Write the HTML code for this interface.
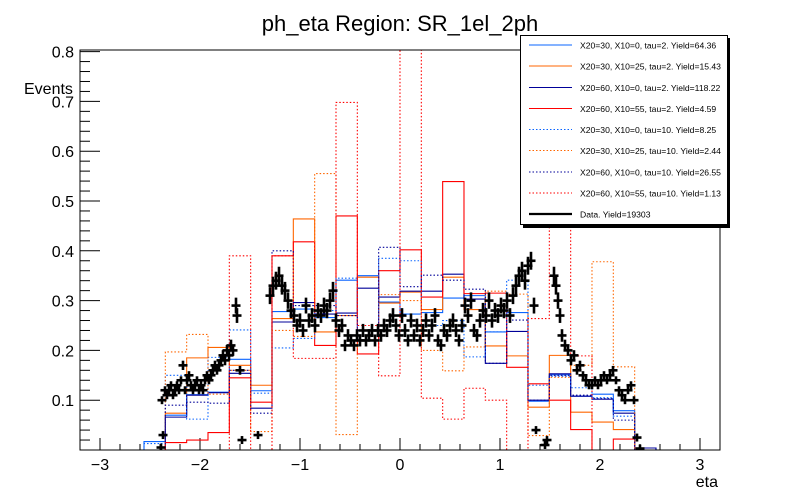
<!DOCTYPE html>
<html><head><meta charset="utf-8"><style>
html,body{margin:0;padding:0;background:#fff;}
svg{display:block;font-family:"Liberation Sans",sans-serif;}
</style></head><body>
<svg id="chart" width="800" height="500" viewBox="0 0 800 500">
<rect x="0" y="0" width="800" height="500" fill="#fff"/>
<text x="400" y="31" font-size="22" text-anchor="middle">ph_eta Region: SR_1el_2ph</text>
<text x="24" y="94" font-size="16">Events</text>
<text x="718" y="487" font-size="16" text-anchor="end">eta</text>
<defs><clipPath id="plotclip"><rect x="80" y="50" width="640" height="400"/></clipPath></defs>
<g id="axes"></g>
<g id="hists" clip-path="url(#plotclip)"></g>
<g id="datag" clip-path="url(#plotclip)"></g>
<rect x="80" y="50" width="640" height="400" fill="none" stroke="#000" stroke-width="1"/>
<g id="legend"></g>
</svg>
<script>
const binLo = -3.2;
const binW = 0.21333;
// bins 0..29
const sigA = [0,0,0,0.017,0.07,0.111,0.116,0.182,0.119,0.278,0.283,0.266,0.341,0.35,0.297,0.273,0.276,0.305,0.31,0.237,0.276,0.098,0.151,0.108,0.112,0.079,0.004,0,0,0];
const sigB = [0,0,0,0,0.074,0.185,0.206,0.17,0.13,0.264,0.464,0.237,0.27,0.347,0.295,0.317,0.282,0.347,0.282,0.209,0.189,0.086,0.19,0.076,0.056,0.041,0,0,0,0];
const sigC = [0,0,0,0,0.066,0.11,0.115,0.154,0.084,0.257,0.296,0.273,0.275,0.325,0.307,0.319,0.319,0.353,0.303,0.174,0.238,0.1,0.153,0.108,0.102,0.074,0.004,0,0,0];
const sigD = [0,0,0,0,0.015,0.02,0.035,0.145,0.096,0.39,0.418,0.21,0.47,0.193,0.36,0.402,0.307,0.539,0.314,0.315,0.166,0.133,0.1,0.041,0,0.022,0,0,0,0];
const sigE = [0,0,0,0.013,0.15,0.062,0.186,0.241,0.114,0.205,0.224,0.28,0.345,0.24,0.385,0.38,0.25,0.26,0.187,0.237,0.341,0.13,0.148,0.125,0.105,0.068,0,0,0,0];
const sigF = [0,0,0,0,0.197,0.232,0.112,0.16,0.037,0.24,0.228,0.555,0.031,0.24,0.312,0.3,0.2,0.159,0.207,0.319,0.313,0.029,0.146,0.17,0.378,0.167,0,0,0,0];
const sigG = [0,0,0,0,0.09,0.096,0.094,0.16,0.074,0.4,0.29,0.29,0.27,0.24,0.407,0.328,0.351,0.341,0.323,0.174,0.261,0.1,0.15,0.11,0.103,0.06,0,0,0,0];
const sigH = [0,0,0,0,0,0,0,0.39,0,0.39,0.184,0.184,0.698,0.25,0.149,0.9,0.104,0.062,0.124,0.1,0,0.264,0.9,0.189,0,0,0,0,0,0];
const dataEta = [-2.39,-2.37,-2.38,-2.35,-2.33,-2.31,-2.29,-2.27,-2.25,-2.23,-2.21,-2.19,-2.17,-2.15,-2.13,-2.11,-2.09,-2.07,-2.05,-2.03,-2.01,-1.99,-1.97,-1.95,-1.93,-1.91,-1.89,-1.87,-1.85,-1.83,-1.81,-1.79,-1.77,-1.75,-1.73,-1.71,-1.69,-1.67,-1.64,-1.63,-1.60,-1.58,-1.42,-1.30,-1.27,-1.24,-1.21,-1.18,-1.15,-1.12,-1.09,-1.06,-1.03,-1.00,-0.97,-0.94,-0.91,-0.88,-0.85,-0.82,-0.79,-0.76,-0.73,-0.70,-0.67,-0.64,-0.61,-0.58,-0.55,-0.52,-0.49,-0.46,-0.43,-0.40,-0.37,-0.34,-0.31,-0.28,-0.25,-0.22,-0.19,-0.16,-0.13,-0.10,-0.07,-0.04,-0.01,0.02,0.05,0.08,0.11,0.14,0.17,0.20,0.23,0.26,0.29,0.32,0.35,0.38,0.41,0.44,0.47,0.50,0.53,0.56,0.59,0.62,0.65,0.68,0.71,0.74,0.77,0.80,0.83,0.86,0.89,0.92,0.95,0.98,1.01,1.04,1.07,1.10,1.13,1.16,1.19,1.22,1.25,1.28,1.31,1.34,1.36,1.45,1.47,1.54,1.56,1.58,1.60,1.62,1.65,1.68,1.71,1.74,1.77,1.80,1.83,1.86,1.89,1.92,1.95,1.98,2.01,2.04,2.07,2.10,2.13,2.16,2.19,2.22,2.25,2.28,2.31,2.34,2.37,2.40];
const dataVal = [0.005,0.03,0.10,0.12,0.11,0.12,0.13,0.11,0.12,0.13,0.12,0.14,0.17,0.12,0.14,0.15,0.13,0.12,0.13,0.14,0.12,0.13,0.12,0.14,0.15,0.14,0.15,0.16,0.17,0.16,0.17,0.18,0.19,0.18,0.20,0.19,0.21,0.20,0.29,0.27,0.16,0.02,0.03,0.31,0.33,0.34,0.35,0.33,0.32,0.30,0.28,0.27,0.25,0.26,0.24,0.29,0.26,0.27,0.25,0.28,0.27,0.29,0.28,0.30,0.32,0.26,0.24,0.25,0.21,0.23,0.22,0.21,0.23,0.22,0.24,0.22,0.23,0.24,0.22,0.24,0.23,0.25,0.24,0.26,0.27,0.25,0.23,0.27,0.24,0.22,0.26,0.23,0.25,0.22,0.24,0.26,0.23,0.25,0.27,0.22,0.21,0.24,0.23,0.25,0.26,0.24,0.22,0.25,0.29,0.27,0.30,0.24,0.23,0.26,0.28,0.27,0.30,0.26,0.28,0.27,0.29,0.28,0.30,0.27,0.31,0.33,0.35,0.36,0.34,0.37,0.38,0.29,0.04,0.01,0.02,0.35,0.33,0.30,0.27,0.23,0.21,0.20,0.18,0.19,0.16,0.17,0.15,0.14,0.13,0.13,0.14,0.13,0.14,0.15,0.14,0.15,0.16,0.14,0.12,0.11,0.10,0.12,0.13,0.10,0.025,0.003];
const yTicks = [0.1,0.2,0.3,0.4,0.5,0.6,0.7,0.8];
const yTickLabels = ["0.1","0.2","0.3","0.4","0.5","0.6","0.7","0.8"];
const xTicks = [-3,-2,-1,0,1,2,3];
const xTickLabels = ["\u22123","\u22122","\u22121","0","1","2","3"];
const legendLabels = ["X20=30, X10=0, tau=2. Yield=64.36","X20=30, X10=25, tau=2. Yield=15.43","X20=60, X10=0, tau=2. Yield=118.22","X20=60, X10=55, tau=2. Yield=4.59","X20=30, X10=0, tau=10. Yield=8.25","X20=30, X10=25, tau=10. Yield=2.44","X20=60, X10=0, tau=10. Yield=26.55","X20=60, X10=55, tau=10. Yield=1.13","Data. Yield=19303"];

const NS="http://www.w3.org/2000/svg";
function X(v){return 400+100*v;}
function Y(v){return 450-498*v;}
function mk(tag,attrs,parent){const e=document.createElementNS(NS,tag);for(const k in attrs)e.setAttribute(k,attrs[k]);parent.appendChild(e);return e;}

const axes=document.getElementById('axes');
for(let i=0;i<=40;i++){
  const v=i*0.02; if(v>0.805) break;
  const major=(i%5===0);
  const t=mk('line',{x1:80,x2:major?100:90,y1:Y(v),y2:Y(v),stroke:'#000','stroke-width':1},axes);
  
  
}
yTicks.forEach((v,i)=>{
  const t=mk('text',{x:74,y:Y(v)+6,'font-size':16,'text-anchor':'end'},axes);
  t.textContent=yTickLabels[i];
  
  
});
for(let i=-16;i<=16;i++){
  const v=i*0.2; const major=(i%5===0);
  const t=mk('line',{x1:X(v),x2:X(v),y1:450,y2:major?438:444,stroke:'#000','stroke-width':1},axes);
  
  
}
xTicks.forEach((v,i)=>{
  const t=mk('text',{x:X(v),y:470,'font-size':16,'text-anchor':'middle'},axes);
  t.textContent=xTickLabels[i];
  
  
});

const series=[
 {vals:sigA,color:'#0a64ff',dash:null,name:'hist-x20-30-x10-0-tau2'},
 {vals:sigB,color:'#ff6600',dash:null,name:'hist-x20-30-x10-25-tau2'},
 {vals:sigC,color:'#000099',dash:null,name:'hist-x20-60-x10-0-tau2'},
 {vals:sigD,color:'#ff0000',dash:null,name:'hist-x20-60-x10-55-tau2'},
 {vals:sigE,color:'#0a64ff',dash:'1.5 2',name:'hist-x20-30-x10-0-tau10'},
 {vals:sigF,color:'#ff6600',dash:'1.5 2',name:'hist-x20-30-x10-25-tau10'},
 {vals:sigG,color:'#000099',dash:'1.5 2',name:'hist-x20-60-x10-0-tau10'},
 {vals:sigH,color:'#ff0000',dash:'1.5 2',name:'hist-x20-60-x10-55-tau10'}
];
const hg=document.getElementById('hists');
series.forEach(s=>{
  let d='M'+X(binLo).toFixed(2)+','+Y(0).toFixed(2);
  s.vals.forEach((v,i)=>{
    d+=' V'+Y(v).toFixed(2)+' H'+X(binLo+(i+1)*binW).toFixed(2);
  });
  d+=' V'+Y(0).toFixed(2);
  const p=mk('path',{d:d,fill:'none',stroke:s.color,'stroke-width':1.1},hg);
  if(s.dash)p.setAttribute('stroke-dasharray',s.dash);
  
  
});

const dg=document.getElementById('datag');
dataEta.forEach((e,i)=>{
  const v=dataVal[i];
  const ey=Math.min(0.018,Math.max(0.008,v*0.055));
  const g=mk('g',{},dg);
  
  
  mk('line',{x1:X(e),x2:X(e),y1:Y(v-ey),y2:Y(v+ey),stroke:'#000','stroke-width':2.6},g);
  mk('line',{x1:X(e-0.045),x2:X(e+0.045),y1:Y(v),y2:Y(v),stroke:'#000','stroke-width':2.6},g);
});

const lg=document.getElementById('legend');
mk('rect',{x:523,y:38,width:207,height:190,fill:'#000'},lg);
mk('rect',{x:520.5,y:35.5,width:207,height:189,fill:'#fff',stroke:'#000','stroke-width':1},lg);
const legY=[45,66,87.5,108.5,129.5,150.5,172,193,214];
legendLabels.forEach((lab,i)=>{
  const g=mk('g',{},lg);
  
  
  if(i<8){
    const s=series[i];
    const l=mk('line',{x1:529,x2:572,y1:legY[i],y2:legY[i],stroke:s.color,'stroke-width':1.1},g);
    if(s.dash)l.setAttribute('stroke-dasharray',s.dash);
  } else {
    mk('line',{x1:529,x2:572,y1:legY[i],y2:legY[i],stroke:'#000','stroke-width':2.2},g);
  }
  const t=mk('text',{x:580,y:legY[i]+3.5,'font-size':8.6},g);
  t.textContent=lab;
});
</script>
</body></html>
